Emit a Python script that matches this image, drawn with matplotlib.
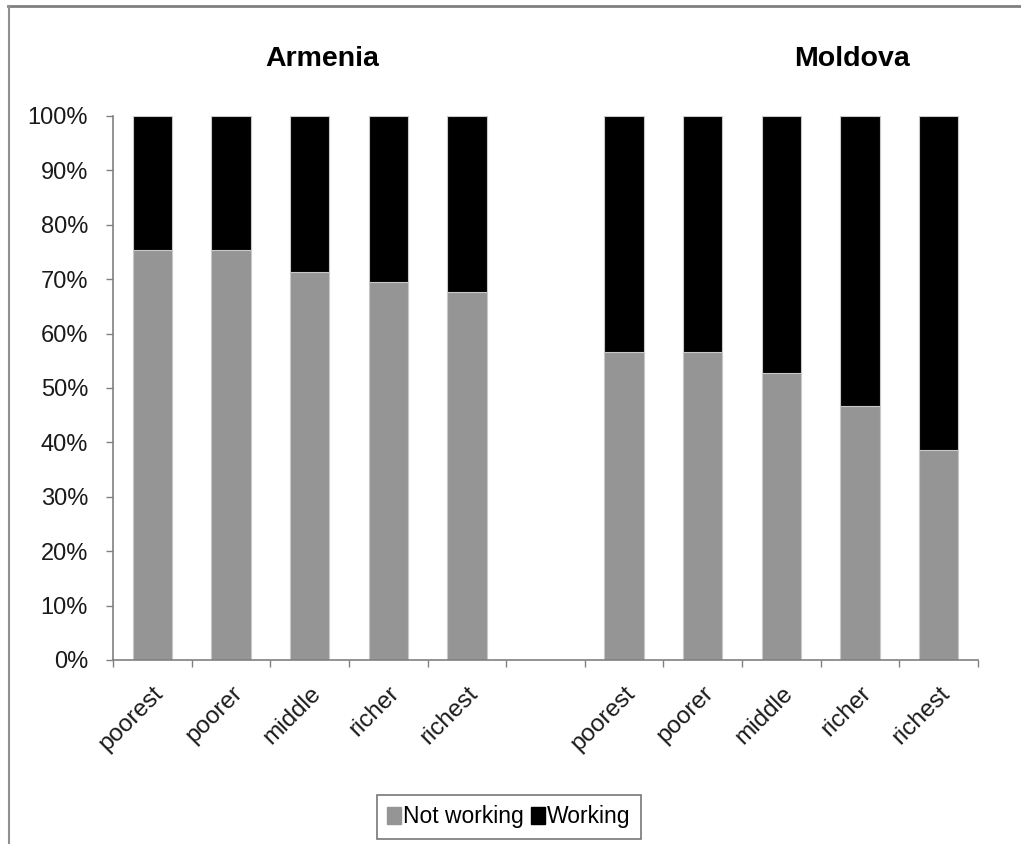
import matplotlib
matplotlib.use("Agg")
import matplotlib.pyplot as plt
from matplotlib.lines import Line2D
from matplotlib.patches import Patch

plt.rcParams['font.family'] = ['Liberation Sans', 'DejaVu Sans']

categories = ["poorest", "poorer", "middle", "richer", "richest", "",
              "poorest", "poorer", "middle", "richer", "richest"]
not_working = [75.4, 75.4, 71.3, 69.4, 67.6, 0,
               56.6, 56.6, 52.7, 46.6, 38.6]
working = [24.6, 24.6, 28.7, 30.6, 32.4, 0,
           43.4, 43.4, 47.3, 53.4, 61.4]
yticks = [0, 10, 20, 30, 40, 50, 60, 70, 80, 90, 100]
ytick_labels = [f"{v}%" for v in yticks]
group_titles = ["Armenia", "Moldova"]

W, H = 1021, 844
fig = plt.figure(figsize=(W / 100, H / 100), dpi=100)
fig.patch.set_facecolor("white")
ax = fig.add_axes([113 / W, 1 - 660 / H, (978 - 113) / W, (660 - 116) / H])

x = list(range(len(categories)))
grey = "#959595"
ax.bar(x, not_working, width=0.5, color=grey, edgecolor="#c8c8c8", linewidth=0.8,
       label="Not working")
ax.bar(x, working, bottom=not_working, width=0.5, color="black", edgecolor="#c8c8c8",
       linewidth=0.8, label="Working")

ax.set_xlim(-0.5, len(categories) - 0.5)
ax.set_ylim(0, 100)
ax.set_yticks(yticks)
ax.set_yticklabels(ytick_labels, fontsize=17, color="#1a1a1a")
ax.tick_params(axis="y", direction="out", length=5, width=1, color="#808080", pad=13)

ax.set_xticks([i - 0.5 for i in range(len(categories) + 1)])
ax.set_xticklabels([])
ax.tick_params(axis="x", direction="out", length=5, width=1, color="#808080")
ax.set_xticks(x, minor=True)
ax.set_xticklabels(categories, minor=True, rotation=45, ha="right",
                   rotation_mode="anchor", fontsize=17.5, color="#1a1a1a")
ax.tick_params(axis="x", which="minor", length=0, pad=16)

for s in ["top", "right"]:
    ax.spines[s].set_visible(False)
for s in ["left", "bottom"]:
    ax.spines[s].set_color("#808080")
    ax.spines[s].set_linewidth(1.2)

fig.text(322 / W, 1 - 59 / H, group_titles[0], fontsize=20.5, fontweight="bold",
         ha="center", va="center")
fig.text(852 / W, 1 - 59 / H, group_titles[1], fontsize=20.5, fontweight="bold",
         ha="center", va="center")

handles = [Patch(facecolor=grey, edgecolor=grey), Patch(facecolor="black", edgecolor="black")]
leg = fig.legend(handles, ["Not working", "Working"], loc="center",
                 bbox_to_anchor=(509 / W, 1 - 817 / H), ncol=2, fontsize=16.5,
                 frameon=True, fancybox=False, edgecolor="#555555",
                 handlelength=0.6, handleheight=0.8, handletextpad=0.1,
                 columnspacing=0.3, borderpad=0.45, borderaxespad=0)
leg.get_frame().set_linewidth(1.2)

# outer frame lines (top and left)
fig.add_artist(Line2D([8 / W, 1], [1 - 6 / H, 1 - 6 / H], transform=fig.transFigure,
                      color="#808080", linewidth=2))
fig.add_artist(Line2D([8.5 / W, 8.5 / W], [0, 1 - 6 / H], transform=fig.transFigure,
                      color="#909090", linewidth=1.5))

fig.savefig("out.png", dpi=100)
